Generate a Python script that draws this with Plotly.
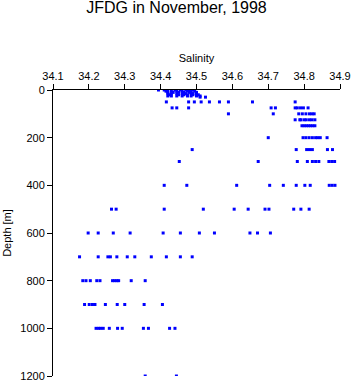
import plotly.graph_objects as go

# Depth levels [m] and salinity observations at each level
depths = [0, 5, 10, 15, 20, 25, 30, 50, 75, 100, 125, 150, 200, 250, 300,
          400, 500, 600, 700, 800, 900, 1000, 1200]

sal_0 = [34.394, 34.41, 34.42, 34.44, 34.455, 34.47, 34.48, 34.49]
sal_5 = [34.415, 34.43, 34.445, 34.46, 34.475, 34.485, 34.495]
sal_10 = [34.42, 34.435, 34.45, 34.465, 34.48, 34.5]
sal_15 = [34.42, 34.43, 34.445, 34.46, 34.47, 34.485, 34.49, 34.5]
sal_20 = [34.425, 34.45, 34.465, 34.475, 34.49, 34.505]
sal_25 = [34.42, 34.43, 34.445, 34.46, 34.475, 34.485, 34.5, 34.51]
sal_30 = [34.51, 34.525]
sal_50 = [34.416, 34.478, 34.494, 34.513, 34.536, 34.564, 34.589, 34.656, 34.775]
sal_75 = [34.432, 34.445, 34.478, 34.708, 34.72, 34.775, 34.781, 34.79, 34.798, 34.811]
sal_100 = [34.589, 34.714, 34.785, 34.795, 34.805, 34.815, 34.822, 34.828]
sal_125 = [34.775, 34.788, 34.791, 34.8, 34.806, 34.815, 34.822, 34.83]
sal_150 = [34.794, 34.8, 34.806, 34.812, 34.818, 34.824, 34.83]
sal_200 = [34.7, 34.797, 34.805, 34.814, 34.823, 34.832, 34.838, 34.845, 34.864]
sal_250 = [34.488, 34.778, 34.807, 34.815, 34.823, 34.865, 34.879]
sal_300 = [34.452, 34.672, 34.781, 34.809, 34.823, 34.832, 34.841, 34.869, 34.877, 34.885]
sal_400 = [34.41, 34.473, 34.612, 34.704, 34.742, 34.778, 34.802, 34.817, 34.87, 34.878, 34.886]
sal_500 = [34.263, 34.276, 34.41, 34.519, 34.605, 34.644, 34.691, 34.702, 34.771, 34.791, 34.814]
sal_600 = [34.198, 34.226, 34.268, 34.315, 34.407, 34.455, 34.508, 34.55, 34.649, 34.67, 34.706]
sal_700 = [34.174, 34.226, 34.253, 34.26, 34.278, 34.307, 34.328, 34.374, 34.416, 34.455, 34.488]
sal_800 = [34.183, 34.192, 34.204, 34.222, 34.231, 34.266, 34.272, 34.278, 34.283, 34.318, 34.357]
sal_900 = [34.188, 34.201, 34.21, 34.217, 34.246, 34.279, 34.3, 34.354, 34.405]
sal_1000 = [34.22, 34.227, 34.233, 34.24, 34.257, 34.28, 34.293, 34.352, 34.366, 34.425, 34.44]
sal_1200 = [34.357, 34.444]

salinity_by_depth = [sal_0, sal_5, sal_10, sal_15, sal_20, sal_25, sal_30, sal_50,
                     sal_75, sal_100, sal_125, sal_150, sal_200, sal_250, sal_300,
                     sal_400, sal_500, sal_600, sal_700, sal_800, sal_900, sal_1000,
                     sal_1200]

x_ticks = [34.1, 34.2, 34.3, 34.4, 34.5, 34.6, 34.7, 34.8, 34.9]
y_ticks = [0, 200, 400, 600, 800, 1000, 1200]

xs, ys = [], []
for d, sals in zip(depths, salinity_by_depth):
    for s in sals:
        xs.append(s)
        ys.append(d)

FONT = "Liberation Sans, Arial, sans-serif"

fig = go.Figure(go.Scatter(
    x=xs, y=ys, mode="markers",
    marker=dict(symbol="square", size=3, color="#0000FF", line=dict(width=0)),
    hoverinfo="x+y",
))

fig.update_layout(
    width=353, height=384,
    margin=dict(l=53, r=13, t=90, b=8, autoexpand=False),
    paper_bgcolor="white", plot_bgcolor="white",
    showlegend=False,
    font=dict(family=FONT, size=11, color="black"),
    title=dict(text="JFDG in November, 1998", x=0.5, xanchor="center",
               y=0.995, yanchor="top", font=dict(family=FONT, size=16, color="black")),
)

fig.update_xaxes(
    side="top", range=[34.1, 34.9], tickvals=x_ticks,
    ticktext=[f"{v:.1f}" for v in x_ticks],
    showgrid=False, zeroline=False, showline=True, linecolor="black", linewidth=1,
    ticks="outside", ticklen=5, tickcolor="black", automargin=False,
    title=dict(text="Salinity", font=dict(family=FONT, size=11), standoff=4),
    tickfont=dict(family=FONT, size=11),
)
fig.update_yaxes(
    range=[1200, 0], tickvals=y_ticks,
    showgrid=False, zeroline=False, showline=True, linecolor="black", linewidth=1,
    ticks="outside", ticklen=5, tickcolor="black", automargin=False,
    title=dict(text="Depth [m]", font=dict(family=FONT, size=11), standoff=6),
    tickfont=dict(family=FONT, size=11),
)

fig.write_html("out.html")
